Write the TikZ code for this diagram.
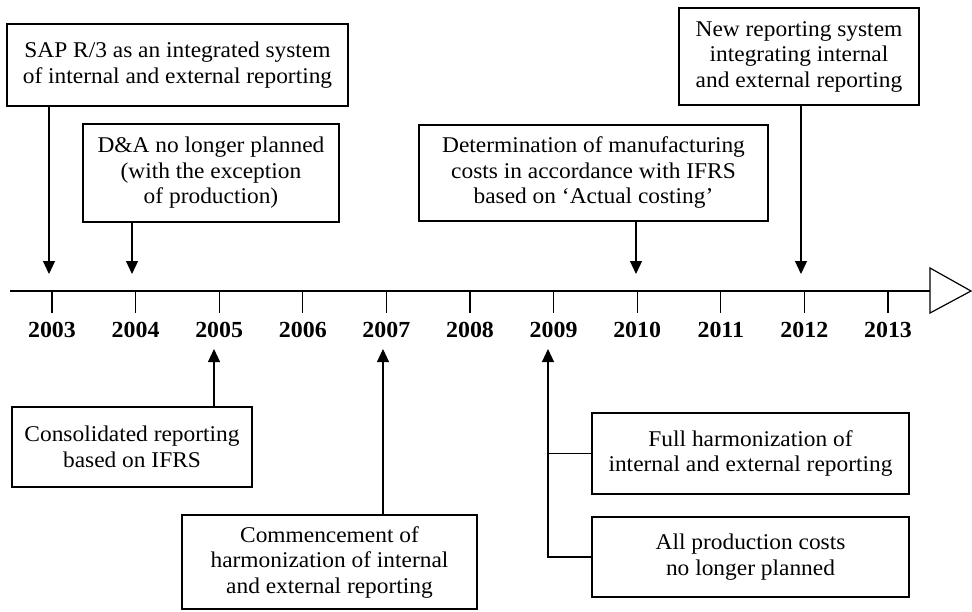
\documentclass[tikz,border=0pt]{standalone}
\usepackage{fontspec}
\setmainfont[FakeStretch=1.04]{Liberation Serif}
\usetikzlibrary{arrows.meta}

\begin{document}
\begin{tikzpicture}[x=1pt,y=-1pt,
  line width=1.2pt,
  font=\fontsize{22.5}{25.5}\selectfont,
  event/.style={draw, align=center, inner sep=0pt, fill=white},
  yearlbl/.style={font=\fontsize{23}{25.5}\selectfont\bfseries, inner sep=0pt},
  arr/.style={-{Triangle[width=12pt,length=13pt]}}]

\useasboundingbox (0,0) rectangle (972,611);

% time axis with open arrow head
\coordinate (axstart) at (10,291);
\coordinate (axend) at (930,291);
\draw (axstart) -- (axend);
\draw[fill=white] (930,268) -- (971,291) -- (930,313) -- cycle;

% ticks and year labels
\foreach \yr [count=\i from 0] in {2003,2004,2005,2006,2007,2008,2009,2010,2011,2012,2013} {
  \pgfmathsetmacro{\tx}{52+83.6*\i}
  \draw (\tx,291) -- (\tx,313);
  \node[yearlbl] (y\yr) at (\tx,330) {\yr};
}

% events above the axis
\node[event, minimum width=341pt, minimum height=82pt] (sap) at (177.5,65)
  {SAP R/3 as an integrated system\\of internal and external reporting};
\node[event, minimum width=256pt, minimum height=98pt] (dna) at (211,173)
  {D\&A no longer planned\\(with the exception\\of production)};
\node[event, minimum width=349pt, minimum height=96pt] (det) at (593.5,173)
  {Determination of manufacturing\\costs in accordance with IFRS\\based on ‘Actual costing’};
\node[event, minimum width=240pt, minimum height=97pt] (newrep) at (799,56.5)
  {New reporting system\\integrating internal\\and external reporting};

% events below the axis
\node[event, minimum width=240pt, minimum height=80pt] (cons) at (132,447)
  {Consolidated reporting\\based on IFRS};
\node[event, minimum width=295pt, minimum height=94pt] (comm) at (329.5,562)
  {Commencement of\\harmonization of internal\\and external reporting};
\node[event, minimum width=317pt, minimum height=81pt] (full) at (750.5,453.5)
  {Full harmonization of\\internal and external reporting};
\node[event, minimum width=317pt, minimum height=80pt] (allp) at (750.5,557)
  {All production costs\\no longer planned};

% arrow targets next to the axis
\coordinate (t03) at (49,274);
\coordinate (t04) at (132,274);
\coordinate (t10) at (636,274);
\coordinate (t12) at (801,274);
\coordinate (t05) at (214,349);
\coordinate (t07) at (383,349);
\coordinate (t09) at (548,349);

% connectors
\draw[arr] (sap.south -| t03) -- (t03);
\draw[arr] (dna.south -| t04) -- (t04);
\draw[arr] (det.south -| t10) -- (t10);
\draw[arr] (newrep.south -| t12) -- (t12);
\draw[arr] (cons.north -| t05) -- (t05);
\draw[arr] (comm.north -| t07) -- (t07);
\draw[arr] (allp.west) -- (allp.west -| t09) -- (t09);
\draw (full.west) -- (full.west -| t09);

\end{tikzpicture}
\end{document}
